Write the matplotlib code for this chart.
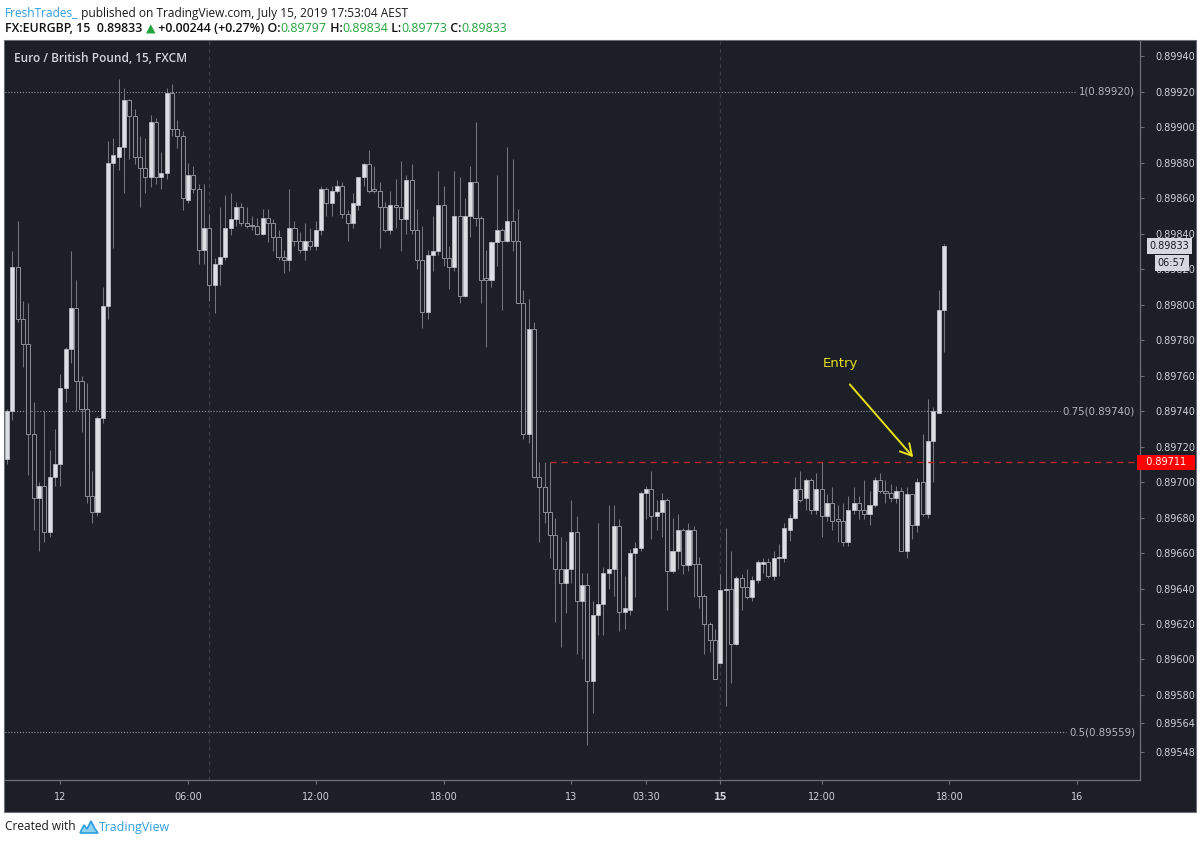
import matplotlib
matplotlib.use("Agg")
import matplotlib.pyplot as plt
import matplotlib.transforms as mtransforms
from matplotlib.patches import Rectangle, Polygon
import numpy as np

W, H = 1200, 844

# ---------------- data (price in 1e-5 units: 89713 -> 0.89713) ----------------
opens = [89713,89740,89821,89792,89778,89727,89691,89698,89672,89703,
         89710,89753,89775,89798,89757,89741,89692,89683,89736,89799,
         89880,89883,89889,89915,89906,89883,89877,89872,89903,89872,
         89874,89919,89899,89895,89859,89873,89865,89831,89843,89811,
         89823,89827,89843,89848,89855,89846,89845,89844,89840,89849,
         89846,89838,89827,89825,89843,89836,89831,89836,89833,89842,
         89865,89857,89864,89867,89851,89846,89856,89872,89879,89865,
         89864,89855,89842,89856,89855,89848,89870,89842,89825,89796,
         89828,89830,89856,89826,89821,89850,89805,89850,89869,89849,
         89815,89814,89835,89842,89836,89847,89836,89801,89727,89786,
         89703,89697,89683,89670,89651,89643,89651,89672,89633,89642,
         89588,89625,89631,89649,89651,89675,89627,89628,89660,89663,
         89694,89696,89681,89683,89690,89650,89661,89673,89653,89673,
         89654,89636,89620,89611,89598,89639,89640,89609,89646,89641,
         89635,89645,89654,89655,89647,89657,89657,89673,89680,89696,
         89691,89701,89684,89696,89681,89688,89679,89678,89666,89684,
         89688,89684,89682,89687,89701,89695,89694,89691,89695,89661,
         89693,89676,89700,89682,89723,89739,89797]
highs = [89741,89830,89847,89802,89801,89745,89700,89740,89718,89730,
         89761,89776,89830,89814,89760,89756,89706,89737,89810,89892,
         89894,89927,89922,89916,89910,89895,89894,89907,89905,89886,
         89922,89924,89904,89898,89880,89878,89868,89868,89851,89826,
         89855,89862,89863,89858,89857,89855,89850,89849,89854,89854,
         89848,89842,89831,89865,89847,89841,89846,89843,89847,89867,
         89866,89867,89870,89869,89853,89863,89872,89880,89887,89878,
         89869,89858,89864,89871,89881,89873,89879,89854,89844,89831,
         89850,89875,89867,89833,89875,89872,89860,89878,89903,89850,
         89831,89836,89873,89843,89889,89882,89854,89808,89803,89790,
         89711,89711,89711,89680,89669,89667,89690,89681,89649,89649,
         89633,89677,89652,89687,89687,89679,89647,89662,89666,89695,
         89698,89706,89690,89694,89691,89680,89682,89674,89677,89675,
         89658,89637,89621,89617,89648,89674,89661,89647,89648,89651,
         89647,89656,89657,89657,89661,89665,89677,89682,89703,89706,
         89702,89702,89705,89711,89693,89697,89687,89688,89692,89697,
         89692,89701,89695,89703,89705,89701,89699,89698,89697,89697,
         89693,89702,89727,89747,89742,89808,89834]
lows = [89710,89735,89790,89765,89704,89673,89661,89666,89669,89698,
        89698,89745,89767,89740,89728,89688,89677,89681,89733,89792,
        89832,89876,89863,89882,89879,89855,89863,89866,89868,89865,
        89871,89895,89888,89853,89857,89863,89823,89823,89802,89795,
        89811,89825,89839,89844,89844,89843,89842,89839,89839,89835,
        89830,89825,89818,89819,89833,89829,89825,89831,89831,89839,
        89850,89850,89863,89849,89836,89843,89853,89867,89863,89863,
        89832,89841,89840,89843,89830,89840,89840,89820,89787,89792,
        89819,89828,89822,89809,89819,89801,89804,89838,89844,89801,
        89776,89810,89822,89797,89835,89830,89801,89724,89722,89702,
        89666,89677,89657,89621,89607,89626,89643,89603,89600,89552,
        89570,89614,89614,89640,89636,89616,89617,89625,89635,89661,
        89679,89668,89673,89669,89628,89649,89651,89648,89650,89635,
        89629,89603,89604,89589,89598,89574,89587,89608,89628,89634,
        89633,89643,89649,89646,89645,89647,89655,89667,89679,89689,
        89684,89682,89682,89669,89678,89673,89666,89664,89664,89682,
        89679,89679,89676,89686,89694,89688,89689,89688,89661,89657,
        89668,89672,89681,89680,89700,89739,89773]
closes = [89740,89821,89792,89778,89727,89691,89698,89672,89703,89710,
          89753,89775,89798,89757,89741,89692,89683,89736,89799,89880,
          89884,89889,89915,89906,89883,89877,89872,89903,89872,89874,
          89919,89899,89895,89860,89873,89865,89831,89843,89811,89823,
          89827,89843,89848,89855,89846,89844,89844,89840,89849,89846,
          89838,89827,89825,89843,89836,89831,89836,89833,89842,89865,
          89857,89864,89867,89851,89846,89857,89872,89879,89864,89864,
          89855,89842,89856,89855,89848,89870,89842,89825,89796,89828,
          89830,89856,89826,89821,89850,89805,89850,89869,89849,89814,
          89814,89835,89842,89836,89847,89836,89801,89727,89786,89703,
          89697,89683,89670,89651,89643,89651,89672,89633,89642,89588,
          89625,89631,89649,89651,89675,89627,89629,89660,89663,89694,
          89696,89681,89683,89690,89650,89661,89673,89653,89673,89654,
          89636,89620,89611,89589,89639,89640,89609,89646,89641,89635,
          89645,89655,89655,89647,89657,89658,89674,89680,89696,89690,
          89701,89684,89696,89681,89688,89678,89678,89666,89684,89688,
          89684,89682,89687,89701,89695,89694,89691,89695,89661,89693,
          89676,89700,89682,89723,89740,89797,89833]

time_tick_pos = [10, 34, 58, 82, 106, 120, 134, 153, 177, 201]
time_tick_labels = ['12', '06:00', '12:00', '18:00', '13', '03:30', '15', '12:00', '18:00', '16']
session_breaks = [38, 134]
price_ticks = [89940, 89920, 89900, 89880, 89860, 89840, 89820, 89800, 89780, 89760,
               89740, 89720, 89700, 89680, 89660, 89640, 89620, 89600, 89580, 89564, 89548]
fib_levels = [89920, 89740, 89559]
fib_labels = ['1(0.89920)', '0.75(0.89740)', '0.5(0.89559)']
entry_level = 89711
entry_start_bar = 102
last_price = 89833
countdown = '06:57'
entry_text_pos = (156.5, 89767)
entry_arrow_tail = (158.3, 89755)
entry_arrow_tip = (170.2, 89714)

SCALE = 1e5
o = np.array(opens) / SCALE
h = np.array(highs) / SCALE
l = np.array(lows) / SCALE
c = np.array(closes) / SCALE
x = np.arange(len(o))

# ---------------- style ----------------
BG = '#1d1f27'
BORDER = '#6c6f79'
TXT = '#cfd2d9'
WICK = '#73767f'
UP_FILL = '#dcdee3'
DOWN_EDGE = '#8d9099'
BLUE = '#2e9ee0'
GREEN = '#23a33c'
FAM = ['Open Sans', 'DejaVu Sans']

def fx(px):
    return px / W

def fy(py):
    return 1 - py / H

fig = plt.figure(figsize=(W / 100, H / 100), dpi=100, facecolor='white')

# dark panel (behind the axes)
fig.patches.append(Rectangle((fx(4), fy(812)), fx(1196) - fx(4), fy(40) - fy(812),
                             transform=fig.transFigure, facecolor=BG, edgecolor=BORDER,
                             linewidth=0.8, zorder=-5))

ax = fig.add_axes([fx(5), fy(780), fx(1140) - fx(5), fy(41) - fy(780)])
ax.set_zorder(2)
ax.set_facecolor(BG)
ax.set_xlim(-0.37, 212.8)
ax.set_ylim(0.895321, 0.899485)
for s in ['left', 'top']:
    ax.spines[s].set_visible(False)
for s in ['right', 'bottom']:
    ax.spines[s].set_color(BORDER)
    ax.spines[s].set_linewidth(0.9)

# session break lines
for sb in session_breaks:
    ax.axvline(sb, color='#3a3d48', lw=0.9, ls=(0, (3, 3)), zorder=1)

# candles
up = c >= o
ax.vlines(x, l, h, color=WICK, lw=0.75, zorder=2)
bw = 0.76
minh = 0.4 / SCALE
body_bot = np.minimum(o, c)
body_h = np.maximum(np.abs(c - o), minh)
ax.bar(x[up], body_h[up], bottom=body_bot[up], width=bw, color=UP_FILL,
       edgecolor='#c4c6cd', linewidth=0.5, zorder=3)
ax.bar(x[~up], body_h[~up], bottom=body_bot[~up], width=bw, color=BG,
       edgecolor=DOWN_EDGE, linewidth=0.7, zorder=3)

# fib levels
renderer = fig.canvas.get_renderer()
for lev, lab in zip(fib_levels, fib_labels):
    t = ax.text(211.9, lev / SCALE, lab, color='#b4b7bf', fontsize=7.3, ha='right', va='center',
                family='DejaVu Sans', zorder=4)
    bb = t.get_window_extent(renderer)
    x_end = ax.transData.inverted().transform((bb.x0 - 3, 0))[0]
    ax.hlines(lev / SCALE, -0.37, x_end, colors='#8f929b', linestyles=(0, (1, 1.6)), lw=0.8, zorder=1)

# entry line
ax.hlines(entry_level / SCALE, entry_start_bar, 212.8, colors='#b3262a', linestyles=(0, (4.5, 3.5)),
          lw=1.0, zorder=4)

# Entry annotation
ax.text(entry_text_pos[0], entry_text_pos[1] / SCALE, 'Entry', color='#e4e01a', fontsize=9.5,
        ha='center', va='center', family='DejaVu Sans', zorder=5)
ax.annotate('', xy=(entry_arrow_tip[0], entry_arrow_tip[1] / SCALE),
            xytext=(entry_arrow_tail[0], entry_arrow_tail[1] / SCALE),
            arrowprops=dict(arrowstyle='->,head_length=0.8,head_width=0.45', color='#e4e01a',
                            lw=1.4, mutation_scale=10, shrinkA=0, shrinkB=0), zorder=5)

# axes ticks
ax.yaxis.tick_right()
ax.set_yticks([p / SCALE for p in price_ticks], labels=[f'{p / SCALE:.5f}' for p in price_ticks])
ax.tick_params(axis='y', direction='out', length=3, width=0.8, color=BORDER, labelcolor=TXT,
               labelsize=7, pad=8)
ax.set_xticks(time_tick_pos, labels=time_tick_labels)
ax.tick_params(axis='x', direction='out', length=3, width=0.8, color=BORDER, labelcolor=TXT,
               labelsize=7, pad=6)
for lbl in ax.get_xticklabels():
    if lbl.get_text() == '15':
        lbl.set_fontweight('bold')

# price boxes on the axis
btrans = mtransforms.blended_transform_factory(ax.transAxes, ax.transData)
ax.text(1.0085, last_price / SCALE, f'{last_price / SCALE:.5f}', transform=btrans, color='#131722',
        fontsize=7, ha='left', va='center', clip_on=False, zorder=6,
        bbox=dict(boxstyle='square,pad=0.3', fc='#d6d8de', ec='none'))
cd_trans = mtransforms.offset_copy(btrans, fig=fig, x=0, y=-17, units='dots')
ax.text(1.0155, last_price / SCALE, countdown, transform=cd_trans, color='#131722',
        fontsize=7, ha='left', va='center', clip_on=False, zorder=6,
        bbox=dict(boxstyle='square,pad=0.3', fc='#d6d8de', ec='none'))
ax.text(1.0, entry_level / SCALE, f'  {entry_level / SCALE:.5f}  ', transform=btrans, color='white',
        fontsize=7, ha='left', va='center', clip_on=False, zorder=6,
        bbox=dict(boxstyle='square,pad=0.3', fc='#ff0000', ec='none'))

# title inside chart
fig.text(fx(14), fy(58), 'Euro / British Pound, 15, FXCM', color='#d1d4dc', fontsize=8.6,
         family=FAM, fontweight='semibold', ha='left', va='center', zorder=5)

# header
def seg_text(x_px, y_px, parts, size, family=FAM):
    base = fig.text(0, 0, '||', fontsize=size, family=family)
    wbase = base.get_window_extent(renderer).width
    base.remove()
    for s, col, wt in parts:
        fig.text(fx(x_px), fy(y_px), s, color=col, fontsize=size, family=family,
                 fontweight=wt, ha='left', va='center')
        m = fig.text(0, 0, '|' + s + '|', fontsize=size, family=family, fontweight=wt)
        x_px += m.get_window_extent(renderer).width - wbase
        m.remove()

seg_text(5, 13, [('FreshTrades_', BLUE, 'normal'),
                 (' published on TradingView.com, July 15, 2019 17:53:04 AEST', '#1a1a1a', 'normal')], 8.6)
seg_text(5, 29, [('FX:EURGBP, 15  0.89833 ', '#111111', 'semibold'),
                 ('▲', GREEN, 'normal'),
                 (' +0.00244 (+0.27%) O:', '#111111', 'semibold'),
                 ('0.89797', GREEN, 'normal'),
                 (' H:', '#111111', 'semibold'),
                 ('0.89834', GREEN, 'normal'),
                 (' L:', '#111111', 'semibold'),
                 ('0.89773', GREEN, 'normal'),
                 (' C:', '#111111', 'semibold'),
                 ('0.89833', GREEN, 'normal')], 8.9)

# footer
seg_text(5, 827, [('Created with', '#1a1a1a', 'normal')], 8.6)
logo = [(80, 833), (84, 825), (87, 829), (91, 821), (95, 829), (98, 833)]
fig.patches.append(Polygon([(fx(px), fy(py)) for px, py in logo], closed=True,
                           transform=fig.transFigure, facecolor='#8fd0f5', edgecolor=BLUE,
                           linewidth=1.2))
seg_text(99, 827, [('TradingView', BLUE, 'normal')], 8.9)

fig.savefig('out.png', dpi=100, facecolor='white')
